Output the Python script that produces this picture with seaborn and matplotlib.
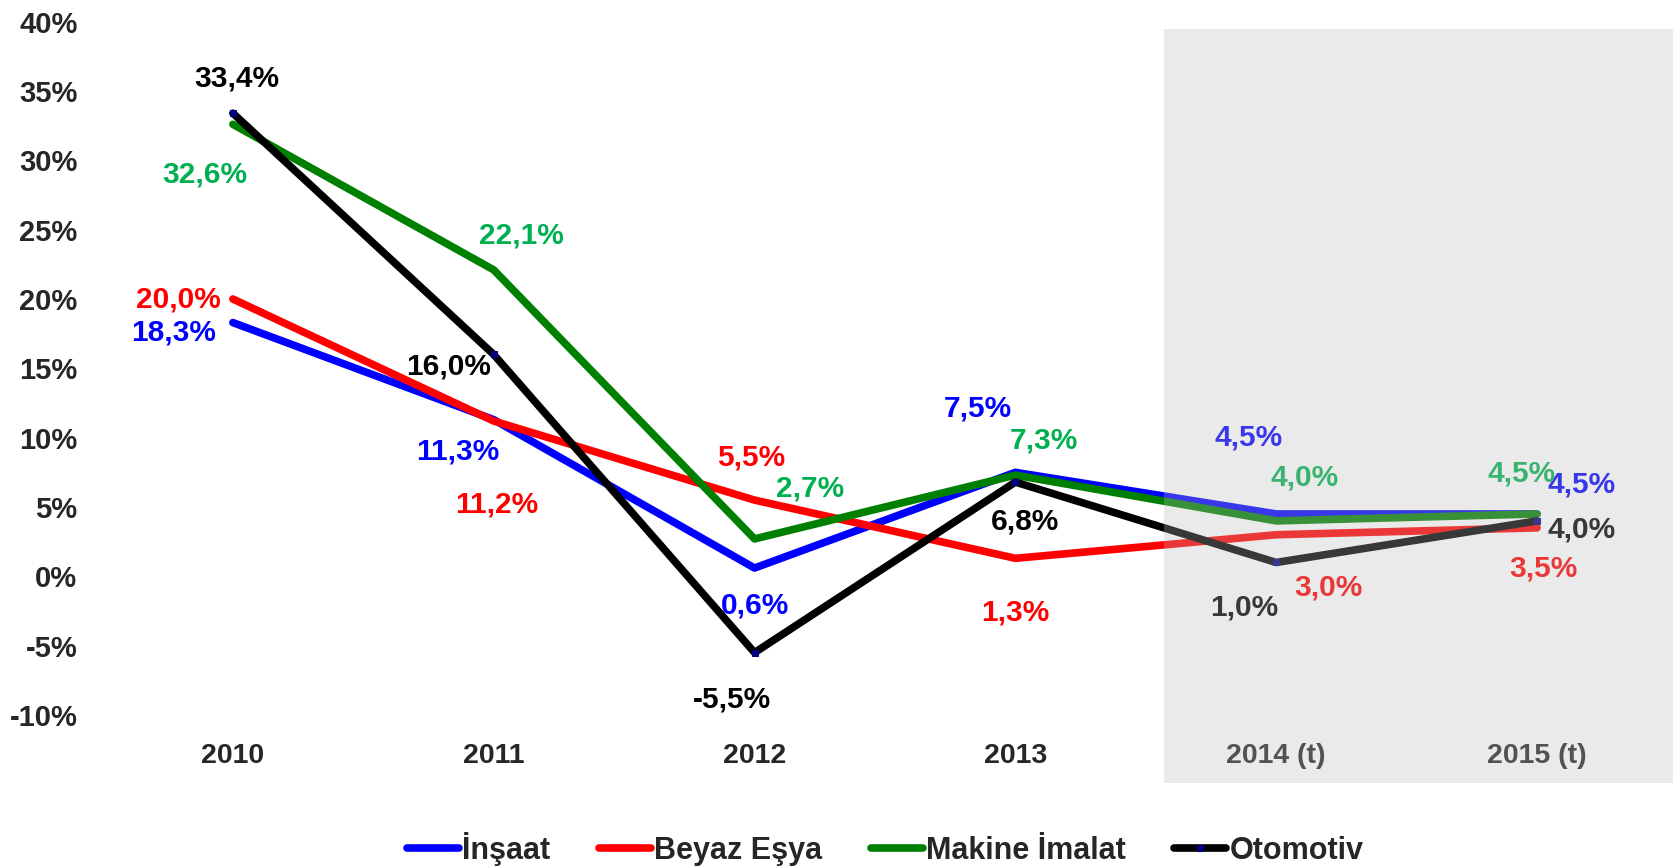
import numpy as np
import matplotlib
matplotlib.use('Agg')
import matplotlib.pyplot as plt
import matplotlib.transforms as mtransforms
from matplotlib.patches import Rectangle
import seaborn as sns
import pandas as pd

# categories and series values (percent)
years = ['2010', '2011', '2012', '2013', '2014 (t)', '2015 (t)']
insaat = [18.3, 11.3, 0.6, 7.5, 4.5, 4.5]
beyaz_esya = [20.0, 11.2, 5.5, 1.3, 3.0, 3.5]
makine = [32.6, 22.1, 2.7, 7.3, 4.0, 4.5]
otomotiv = [33.4, 16.0, -5.5, 6.8, 1.0, 4.0]
y_ticks = [-10, -5, 0, 5, 10, 15, 20, 25, 30, 35, 40]

series = {
    'İnşaat': insaat,
    'Beyaz Eşya': beyaz_esya,
    'Makine İmalat': makine,
    'Otomotiv': otomotiv,
}
line_colors = {'İnşaat': '#0000FF', 'Beyaz Eşya': '#FF0000',
               'Makine İmalat': '#008000', 'Otomotiv': '#000000'}
label_colors = {'İnşaat': '#0000FF', 'Beyaz Eşya': '#FF0000',
                'Makine İmalat': '#00B050', 'Otomotiv': '#000000'}

# label offsets in pixels (dx, dy) relative to each point, dy positive = up
label_offsets = {
    'İnşaat': [(-59, -10), (-36, -32), (0, -37), (-38, 64), (-28, 76), (45, 29)],
    'Beyaz Eşya': [(-54, 0), (3, -83), (-3, 43), (0, -54), (52, -53), (6, -41)],
    'Makine İmalat': [(-28, -50), (28, 34), (56, 50), (28, 35), (28, 43), (-15, 40)],
    'Otomotiv': [(4, 35), (-45, -12), (-23, -47), (10, -39), (-32, -45), (45, -9)],
}

df = pd.DataFrame(series)
df['idx'] = np.arange(len(years))

sns.set_style('white')
plt.rcParams['font.family'] = ['Liberation Sans', 'DejaVu Sans']
plt.rcParams['font.weight'] = 'bold'

fig = plt.figure(figsize=(16.74, 8.67), dpi=100)
ax = fig.add_axes([0.0612, 0.1753, 0.9349, 0.7997])

for name in series:
    is_oto = name == 'Otomotiv'
    sns.lineplot(data=df, x='idx', y=name, ax=ax, color=line_colors[name],
                 linewidth=5.5, label=name,
                 marker='s' if is_oto else None, markersize=5,
                 markerfacecolor='#000080', markeredgecolor='#000080')
    for i, v in enumerate(series[name]):
        dx, dy = label_offsets[name][i]
        ax.annotate(f"{v:.1f}".replace('.', ',') + '%', (i, v),
                    xytext=(dx, dy), textcoords='offset pixels',
                    ha='center', va='center', fontsize=21.5, fontweight='bold',
                    color=label_colors[name])

ax.set_xlim(-0.5, len(years) - 0.5)
ax.set_ylim(-10, 40)
ax.set_xticks(range(len(years)))
ax.set_xticklabels(years, fontsize=20.5, fontweight='bold')
ax.set_yticks(y_ticks)
ax.set_yticklabels([f"{t}%" for t in y_ticks], fontsize=21, fontweight='bold')
ax.tick_params(axis='x', length=0, pad=20)
ax.tick_params(axis='y', length=0, pad=18)
ax.set_xlabel('')
ax.set_ylabel('')
for s in ax.spines.values():
    s.set_visible(False)

leg = ax.legend(loc='center', bbox_to_anchor=(0.5, -0.193), ncol=4,
                frameon=False, handlelength=1.7, handletextpad=0.1,
                columnspacing=1.6, prop={'size': 22, 'weight': 'bold'})

# forecast shading drawn over the lines and labels
trans = mtransforms.blended_transform_factory(ax.transData, fig.transFigure)
fig.add_artist(Rectangle((3.57, 0.0969), 3.0, 0.8697, transform=trans,
                         facecolor='#BBBBBB', edgecolor='none', alpha=0.3,
                         zorder=5))

fig.savefig('out.png', dpi=100)
